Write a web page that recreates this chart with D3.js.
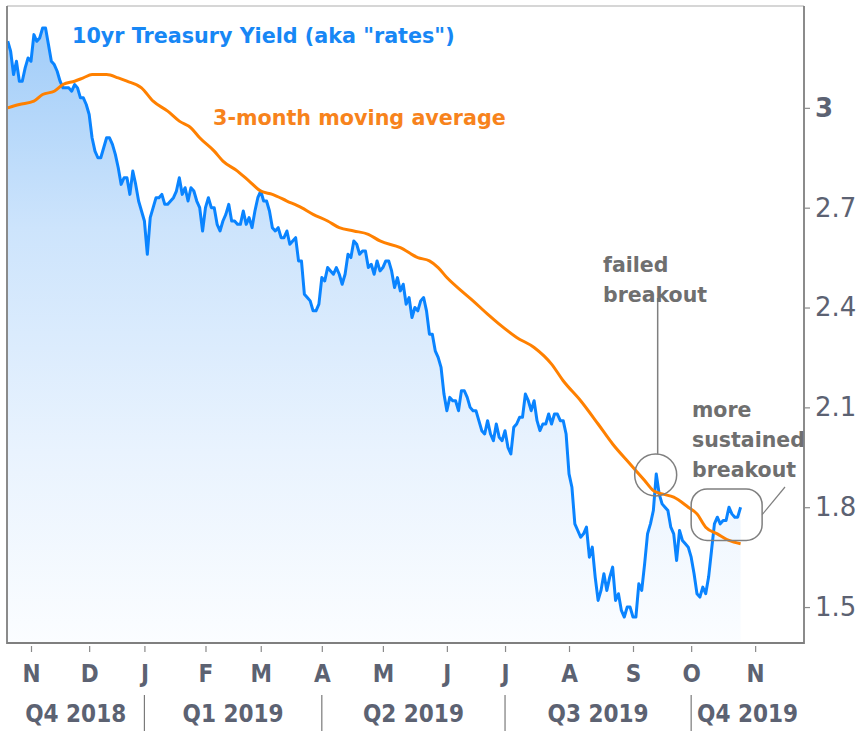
<!DOCTYPE html>
<html><head><meta charset="utf-8">
<style>
body { margin: 0; background: #fff; }
svg { display: block; }
.axis .domain { display: none; }
.ylab text { font-family: "DejaVu Sans", sans-serif; font-size: 26px; fill: #5c6272; }
.xlab text { font-family: "DejaVu Sans Condensed", "DejaVu Sans", sans-serif; font-weight: bold; font-size: 24px; fill: #5c6272; }
.axis line { stroke: #8a8a8a; stroke-width: 1.2; }
.note { font-family: "DejaVu Sans", sans-serif; font-weight: bold; font-size: 20.5px; fill: #6f6f6f; }
</style>
</head>
<body>
<svg width="858" height="731"></svg>
<script src="https://cdn.jsdelivr.net/npm/d3@7"></script>
<script>

// 10yr yield, one value per trading day, starting Oct 22 2018
var yields = [
  // Oct 2018
  3.20, 3.17, 3.10, 3.14, 3.08, 3.08, 3.12, 3.15,
  // Nov
  3.14, 3.22, 3.20, 3.21, 3.24, 3.24, 3.19, 3.14, 3.13, 3.11,
  3.08, 3.06, 3.06, 3.06, 3.05, 3.07, 3.06, 3.03, 3.03, 3.01,
  // Dec
  2.98, 2.91, 2.87, 2.85, 2.85, 2.88, 2.91, 2.91, 2.89, 2.86,
  2.82, 2.77, 2.79, 2.79, 2.74, 2.81, 2.77, 2.72, 2.69,
  // Jan 2019
  2.66, 2.56, 2.67, 2.70, 2.73, 2.73, 2.74, 2.71, 2.71, 2.72,
  2.73, 2.75, 2.79, 2.74, 2.76, 2.72, 2.76, 2.75, 2.72, 2.70, 2.63,
  // Feb
  2.70, 2.73, 2.70, 2.70, 2.65, 2.63, 2.66, 2.68, 2.71, 2.66,
  2.66, 2.65, 2.65, 2.69, 2.65, 2.67, 2.64, 2.69, 2.73,
  // Mar
  2.75, 2.72, 2.72, 2.69, 2.64, 2.63, 2.64, 2.61, 2.61, 2.63,
  2.59, 2.60, 2.61, 2.54, 2.54, 2.44, 2.43, 2.42, 2.39, 2.39, 2.41,
  // Apr
  2.49, 2.48, 2.52, 2.51, 2.50, 2.52, 2.50, 2.47, 2.50, 2.56,
  2.55, 2.60, 2.59, 2.56, 2.57, 2.57, 2.52, 2.53, 2.50, 2.54, 2.51,
  // May
  2.52, 2.54, 2.54, 2.51, 2.46, 2.49, 2.45, 2.47, 2.41, 2.43, 2.37,
  2.40, 2.39, 2.42, 2.43, 2.39, 2.32, 2.32, 2.27, 2.25, 2.22, 2.14,
  // Jun
  2.09, 2.13, 2.12, 2.12, 2.09, 2.15, 2.15, 2.13, 2.10, 2.09,
  2.09, 2.06, 2.03, 2.02, 2.06, 2.02, 2.00, 2.05, 2.01, 2.00,
  // Jul
  2.03, 1.98, 1.96, 2.04, 2.05, 2.07, 2.07, 2.14, 2.12, 2.09, 2.12,
  2.06, 2.03, 2.05, 2.05, 2.08, 2.05, 2.08, 2.08, 2.06, 2.06, 2.02,
  // Aug
  1.90, 1.86, 1.75, 1.73, 1.71, 1.72, 1.74, 1.65, 1.68, 1.59, 1.52,
  1.55, 1.60, 1.55, 1.59, 1.62, 1.52, 1.54, 1.49, 1.47, 1.50, 1.50,
  // Sep
  1.47, 1.47, 1.57, 1.55, 1.63, 1.72, 1.75, 1.79, 1.90, 1.84,
  1.81, 1.80, 1.79, 1.74, 1.72, 1.64, 1.73, 1.70, 1.69, 1.68,
  // Oct
  1.65, 1.60, 1.54, 1.53, 1.56, 1.54, 1.59, 1.67, 1.75, 1.77,
  1.75, 1.76, 1.76, 1.80, 1.78, 1.77, 1.77, 1.80
];

// 3-month moving average (trading day index, value)
var maIdx = [0, 4, 9, 12, 16, 19, 23, 26, 29, 34, 38, 41, 46, 50, 55, 59, 63, 66,
             71, 74, 79, 83, 87, 91, 96, 101, 105, 110, 114, 119, 124, 128, 135,
             141, 145, 148, 151, 156, 160, 165, 169, 175, 181, 187, 191, 197, 203,
             208, 214, 219, 222, 225, 229, 234, 237, 240, 244, 248, 252];
var maVal = [3.00, 3.01, 3.02, 3.04, 3.05, 3.07, 3.08, 3.09, 3.10, 3.10, 3.09, 3.08,
             3.06, 3.02, 2.99, 2.96, 2.94, 2.91, 2.87, 2.84, 2.81, 2.78, 2.75, 2.74,
             2.72, 2.70, 2.68, 2.66, 2.64, 2.63, 2.62, 2.60, 2.58, 2.55, 2.54, 2.52,
             2.49, 2.45, 2.42, 2.38, 2.35, 2.31, 2.28, 2.23, 2.18, 2.12, 2.05, 1.99,
             1.93, 1.88, 1.85, 1.84, 1.83, 1.80, 1.78, 1.74, 1.72, 1.70, 1.69];

var monthLabels = ["N", "D", "J", "F", "M", "A", "M", "J", "J", "A", "S", "O", "N"];
var monthIdx = [8, 28, 47, 68, 87, 108, 129, 151, 171, 193, 215, 235, 257];
var quarterLabels = ["Q4 2018", "Q1 2019", "Q2 2019", "Q3 2019", "Q4 2019"];
var quarterBreaks = [47, 108, 171, 235];
var yTicks = [1.5, 1.8, 2.1, 2.4, 2.7, 3];

var svg = d3.select("svg"),
    plotL = 7, plotR = 804, plotT = 6, plotB = 643;

var x = d3.scaleLinear().domain([-0.25, 273.8]).range([plotL, plotR]);
var y = d3.scaleLinear().domain([1.392, 3.306]).range([plotB, plotT]);

var grad = svg.append("defs").append("linearGradient")
    .attr("id", "fillGrad")
    .attr("gradientUnits", "userSpaceOnUse")
    .attr("x1", 0).attr("y1", plotT).attr("x2", 0).attr("y2", plotB);
grad.append("stop").attr("offset", 0).attr("stop-color", "#9ccaf8");
grad.append("stop").attr("offset", 0.35).attr("stop-color", "#cde4fc");
grad.append("stop").attr("offset", 0.7).attr("stop-color", "#e9f3fe");
grad.append("stop").attr("offset", 1).attr("stop-color", "#fbfdff");

svg.append("path")
    .datum(yields)
    .attr("fill", "url(#fillGrad)")
    .attr("d", d3.area()
        .x(function(d, i) { return x(i); })
        .y0(plotB)
        .y1(function(d) { return y(d); }));

svg.append("path")
    .datum(yields)
    .attr("fill", "none")
    .attr("stroke", "#0a84ff")
    .attr("stroke-width", 3)
    .attr("stroke-linejoin", "round")
    .attr("d", d3.line()
        .x(function(d, i) { return x(i); })
        .y(function(d) { return y(d); }));

svg.append("path")
    .datum(d3.zip(maIdx, maVal))
    .attr("fill", "none")
    .attr("stroke", "#ff8000")
    .attr("stroke-width", 3)
    .attr("d", d3.line()
        .curve(d3.curveMonotoneX)
        .x(function(d) { return x(d[0]); })
        .y(function(d) { return y(d[1]); }));

// frame
svg.append("line").attr("x1", plotL).attr("x2", plotR).attr("y1", plotT).attr("y2", plotT)
    .attr("stroke", "#c8c8c8").attr("stroke-width", 1.5);
svg.append("path")
    .attr("d", "M" + plotL + "," + plotT + "V" + plotB + "H" + plotR + "V" + plotT)
    .attr("fill", "none").attr("stroke", "#7f7f7f").attr("stroke-width", 1.8);

// right axis
var yAxis = svg.append("g")
    .attr("class", "axis ylab")
    .attr("transform", "translate(" + plotR + ",0)")
    .call(d3.axisRight(y).tickValues(yTicks).tickSize(6).tickPadding(5)
        .tickFormat(function(d) { return d === 3 ? "3" : d.toFixed(1); }));
yAxis.selectAll("text").filter(function(d) { return d === 3; })
    .attr("font-weight", "bold").attr("fill", "#555b68");

// bottom axis: months
svg.append("g")
    .attr("class", "axis xlab")
    .attr("transform", "translate(0," + (plotB + 3) + ")")
    .call(d3.axisBottom(x).tickValues(monthIdx).tickSize(6).tickPadding(13)
        .tickFormat(function(d, i) { return monthLabels[i]; }));

// quarters
var qEdges = [x.domain()[0]].concat(quarterBreaks, [x.domain()[1]]);
var q = svg.append("g").attr("class", "xlab");
q.selectAll("line").data(quarterBreaks).enter().append("line")
    .attr("x1", function(d) { return x(d); }).attr("x2", function(d) { return x(d); })
    .attr("y1", 695).attr("y2", 731)
    .attr("stroke", "#7a7a7a").attr("stroke-width", 1.2);
q.selectAll("text").data(quarterLabels).enter().append("text")
    .attr("x", function(d, i) { return (x(qEdges[i]) + x(qEdges[i + 1])) / 2; })
    .attr("y", 722)
    .attr("text-anchor", "middle")
    .text(function(d) { return d; });

// series labels
svg.append("text")
    .attr("x", 72).attr("y", 43)
    .attr("font-family", "DejaVu Sans, sans-serif").attr("font-weight", "bold")
    .attr("font-size", 20.7).attr("fill", "#1787f5")
    .text('10yr Treasury Yield (aka "rates")');
svg.append("text")
    .attr("x", 213).attr("y", 125)
    .attr("font-family", "DejaVu Sans, sans-serif").attr("font-weight", "bold")
    .attr("font-size", 20.7).attr("fill", "#f7831c")
    .text("3-month moving average");

// annotations
var failed = { i: 222.8, v: 1.897, r: 21 };
svg.append("circle")
    .attr("cx", x(failed.i)).attr("cy", y(failed.v)).attr("r", failed.r)
    .attr("fill", "none").attr("stroke", "#7f7f7f").attr("stroke-width", 1.5);
svg.append("line")
    .attr("x1", x(failed.i) + 2).attr("x2", x(failed.i) + 2)
    .attr("y1", 298).attr("y2", y(failed.v) - failed.r)
    .attr("stroke", "#7f7f7f").attr("stroke-width", 1.5);
svg.append("text").attr("class", "note").attr("x", 603).attr("y", 272).text("failed");
svg.append("text").attr("class", "note").attr("x", 603).attr("y", 302).text("breakout");

var sustained = { i0: 235, i1: 259.4, v0: 1.70, v1: 1.855 };
svg.append("rect")
    .attr("x", x(sustained.i0)).attr("y", y(sustained.v1))
    .attr("width", x(sustained.i1) - x(sustained.i0))
    .attr("height", y(sustained.v0) - y(sustained.v1))
    .attr("rx", 16)
    .attr("fill", "none").attr("stroke", "#7f7f7f").attr("stroke-width", 1.5);
svg.append("line")
    .attr("x1", x(sustained.i1)).attr("y1", (y(sustained.v0) + y(sustained.v1)) / 2)
    .attr("x2", 785).attr("y2", 487)
    .attr("stroke", "#7f7f7f").attr("stroke-width", 1.2);
svg.append("text").attr("class", "note").attr("x", 692).attr("y", 417).text("more");
svg.append("text").attr("class", "note").attr("x", 692).attr("y", 447).text("sustained");
svg.append("text").attr("class", "note").attr("x", 692).attr("y", 477).text("breakout");

</script>
</body></html>
